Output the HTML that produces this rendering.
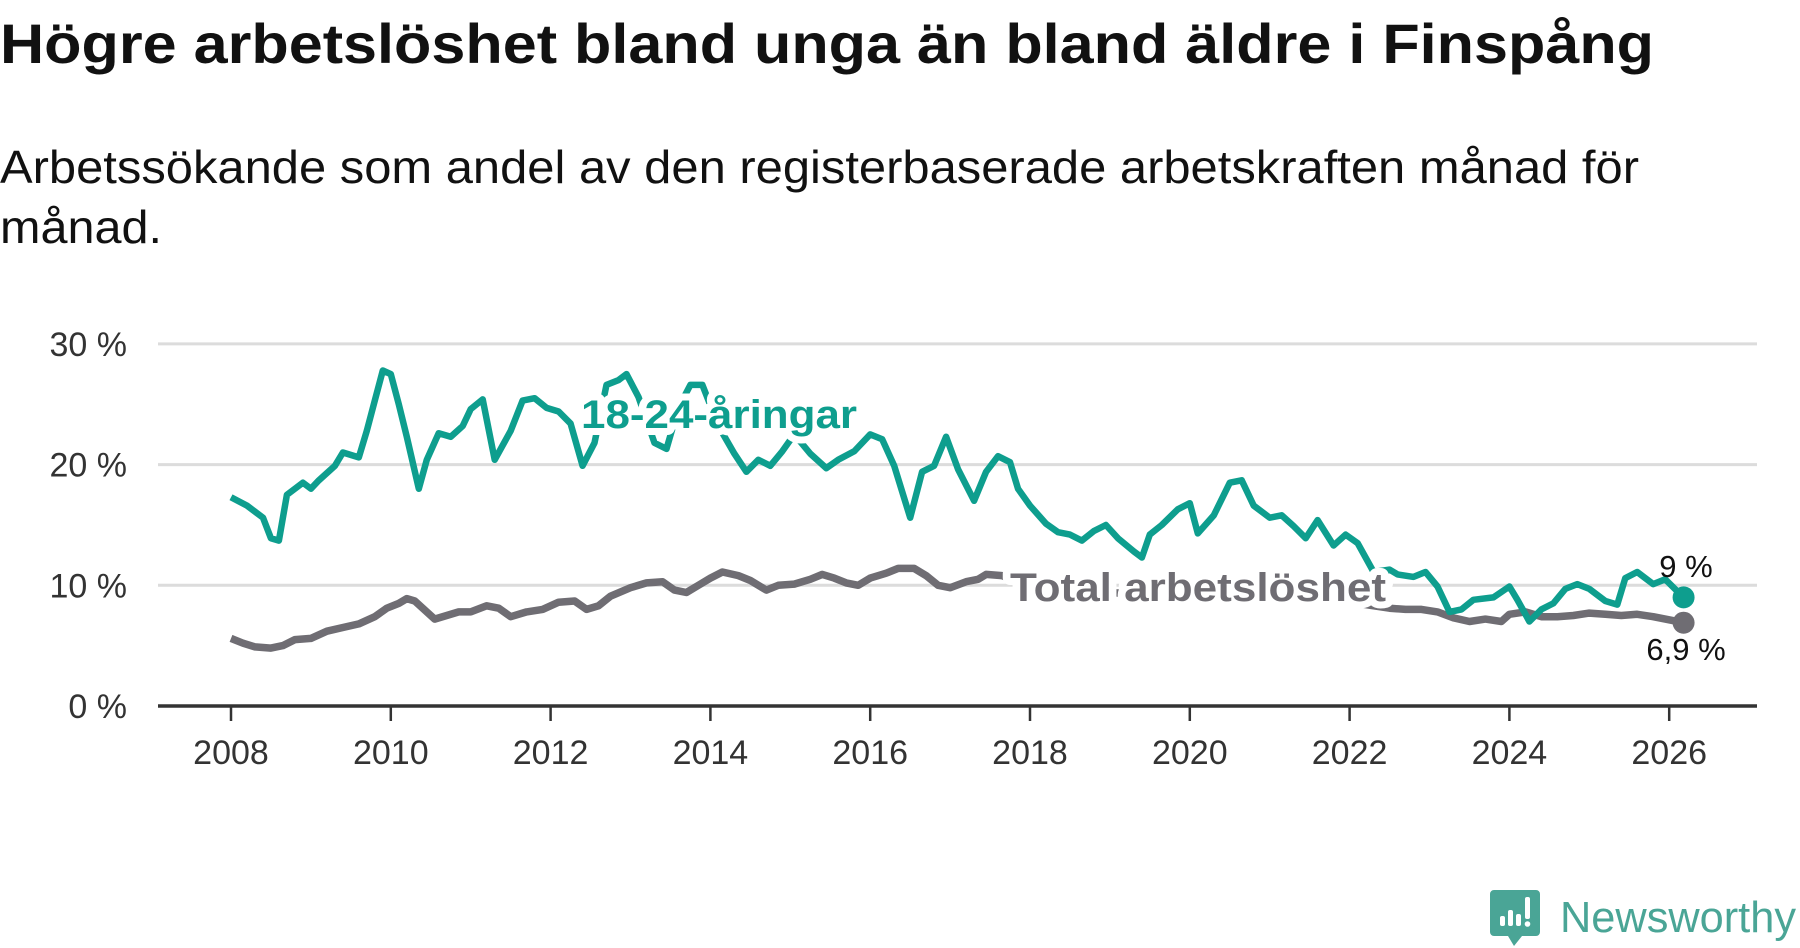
<!DOCTYPE html>
<html><head><meta charset="utf-8"><style>
html,body{margin:0;padding:0;background:#fff;}
svg{display:block;font-family:"Liberation Sans",sans-serif;}
</style></head><body>
<svg id="chart" width="1800" height="948" viewBox="0 0 1800 948">
<text x="0" y="63" font-size="56" font-weight="bold" fill="#111" textLength="1654" lengthAdjust="spacingAndGlyphs">Högre arbetslöshet bland unga än bland äldre i Finspång</text>
<text x="0" y="183" font-size="46" fill="#111" textLength="1639" lengthAdjust="spacingAndGlyphs">Arbetssökande som andel av den registerbaserade arbetskraften månad för</text>
<text x="0" y="243" font-size="46" fill="#111" textLength="162" lengthAdjust="spacingAndGlyphs">månad.</text>
<g id="grid"></g><g id="xaxis"></g><g id="lines"></g><g id="labels"></g>
<g>
<path d="M1494 890 h42 a4 4 0 0 1 4 4 v38 a4 4 0 0 1 -4 4 h-14 l-8 10 l-6 -10 h-14 a4 4 0 0 1 -4 -4 v-38 a4 4 0 0 1 4 -4z" fill="#4aa596"/>
<rect x="1500" y="916" width="5" height="10" rx="2" fill="#fff"/><rect x="1508" y="910" width="5" height="16" rx="2" fill="#fff"/><rect x="1516" y="914" width="5" height="12" rx="2" fill="#fff"/><rect x="1525" y="897" width="5" height="22" rx="2" fill="#fff"/><circle cx="1527.5" cy="924" r="2.8" fill="#fff"/>
<text x="1560" y="932" font-size="44" fill="#4aa596" textLength="236" lengthAdjust="spacingAndGlyphs">Newsworthy</text>
</g>
</svg>
<script>
const yTicks=[0,10,20,30];
const yTickLabels=["0 %","10 %","20 %","30 %"];
const xTicks=[2008,2010,2012,2014,2016,2018,2020,2022,2024,2026];
const youthT=[2008.0,2008.2,2008.4,2008.5,2008.6,2008.7,2008.9,2009.0,2009.1,2009.3,2009.4,2009.6,2009.7,2009.8,2009.9,2010.0,2010.1,2010.2,2010.35,2010.45,2010.6,2010.75,2010.9,2011.0,2011.15,2011.3,2011.5,2011.65,2011.8,2011.95,2012.1,2012.25,2012.4,2012.55,2012.7,2012.85,2012.95,2013.1,2013.3,2013.45,2013.6,2013.75,2013.9,2014.1,2014.3,2014.45,2014.6,2014.75,2014.9,2015.05,2015.25,2015.45,2015.6,2015.8,2016.0,2016.15,2016.3,2016.5,2016.65,2016.8,2016.95,2017.1,2017.3,2017.45,2017.6,2017.75,2017.85,2018.0,2018.2,2018.35,2018.5,2018.65,2018.8,2018.95,2019.1,2019.3,2019.4,2019.5,2019.65,2019.85,2020.0,2020.1,2020.3,2020.5,2020.65,2020.8,2021.0,2021.15,2021.3,2021.45,2021.6,2021.8,2021.95,2022.1,2022.3,2022.5,2022.6,2022.8,2022.95,2023.1,2023.25,2023.4,2023.55,2023.8,2024.0,2024.1,2024.25,2024.4,2024.55,2024.7,2024.85,2025.0,2025.2,2025.35,2025.45,2025.6,2025.8,2025.95,2026.18];
const youthV=[17.3,16.6,15.6,13.9,13.7,17.5,18.5,18.0,18.7,19.9,21.0,20.6,22.8,25.3,27.8,27.5,25.0,22.3,18.0,20.4,22.6,22.3,23.2,24.6,25.4,20.4,22.8,25.3,25.5,24.7,24.4,23.4,19.9,21.8,26.6,27.0,27.5,25.6,21.8,21.3,24.7,26.6,26.6,23.2,20.9,19.4,20.4,19.9,21.1,22.5,20.9,19.7,20.4,21.1,22.5,22.1,19.9,15.6,19.4,19.9,22.3,19.6,17.0,19.4,20.7,20.2,18.0,16.6,15.1,14.4,14.2,13.7,14.5,15.0,13.9,12.8,12.3,14.2,15.0,16.3,16.8,14.3,15.8,18.5,18.7,16.6,15.6,15.8,14.9,13.9,15.4,13.3,14.2,13.5,11.1,11.3,10.9,10.7,11.1,9.9,7.8,8.0,8.8,9.0,9.9,8.8,7.0,8.0,8.5,9.7,10.1,9.7,8.7,8.4,10.6,11.1,10.1,10.5,9.0];
const totalT=[2008.0,2008.15,2008.3,2008.5,2008.65,2008.8,2009.0,2009.2,2009.4,2009.6,2009.8,2009.95,2010.1,2010.2,2010.3,2010.55,2010.7,2010.85,2011.0,2011.2,2011.35,2011.5,2011.7,2011.9,2012.1,2012.3,2012.45,2012.6,2012.75,2013.0,2013.2,2013.4,2013.55,2013.7,2013.85,2014.0,2014.15,2014.35,2014.5,2014.7,2014.85,2015.05,2015.25,2015.4,2015.55,2015.7,2015.85,2016.0,2016.2,2016.35,2016.55,2016.7,2016.85,2017.0,2017.2,2017.35,2017.45,2017.65,2017.85,2018.0,2018.5,2019.0,2019.5,2020.0,2020.5,2021.0,2021.5,2022.0,2022.3,2022.5,2022.7,2022.9,2023.1,2023.3,2023.5,2023.7,2023.9,2024.0,2024.2,2024.4,2024.6,2024.8,2025.0,2025.2,2025.4,2025.6,2025.8,2026.18];
const totalV=[5.6,5.2,4.9,4.8,5.0,5.5,5.6,6.2,6.5,6.8,7.4,8.1,8.5,8.9,8.7,7.2,7.5,7.8,7.8,8.3,8.1,7.4,7.8,8.0,8.6,8.7,8.0,8.3,9.1,9.8,10.2,10.3,9.6,9.4,10.0,10.6,11.1,10.8,10.4,9.6,10.0,10.1,10.5,10.9,10.6,10.2,10.0,10.6,11.0,11.4,11.4,10.8,10.0,9.8,10.3,10.5,10.9,10.8,10.3,10.6,10.0,9.4,9.2,9.8,10.0,9.4,9.0,8.6,8.3,8.1,8.0,8.0,7.8,7.3,7.0,7.2,7.0,7.6,7.8,7.4,7.4,7.5,7.7,7.6,7.5,7.6,7.4,6.9];
const NS="http://www.w3.org/2000/svg";
const X=t=>231+(t-2008)*79.9;
const Y=v=>706-v*12.07;
function mk(tag,attrs,parent){const e=document.createElementNS(NS,tag);for(const k in attrs)e.setAttribute(k,attrs[k]);parent.appendChild(e);return e;}
const grid=document.getElementById('grid'),xa=document.getElementById('xaxis'),lines=document.getElementById('lines'),labels=document.getElementById('labels');
yTicks.forEach((v,i)=>{
 if(v>0){const g=mk('line',{x1:158,x2:1757,y1:Y(v),y2:Y(v),stroke:'#dcdcdc','stroke-width':3},grid);
 
 }
 const t=mk('text',{x:127,y:Y(v)+12,'text-anchor':'end','font-size':34,fill:'#333'},grid);t.textContent=yTickLabels[i];
 
 
});
const ax=mk('line',{x1:158,x2:1757,y1:706,y2:706,stroke:'#333','stroke-width':3.5},xa);


xTicks.forEach(yr=>{
 const l=mk('line',{x1:X(yr),x2:X(yr),y1:706,y2:721,stroke:'#333','stroke-width':2.5},xa);
 
 
 const t=mk('text',{x:X(yr),y:764,'text-anchor':'middle','font-size':34,fill:'#333'},xa);t.textContent=yr;
 
 
});
function path(T,V){return T.map((t,i)=>(i?'L':'M')+X(t).toFixed(1)+' '+Y(V[i]).toFixed(1)).join(' ');}
const tl=mk('path',{d:path(totalT,totalV),fill:'none',stroke:'#6f6d73','stroke-width':7.5,'stroke-linejoin':'round'},lines);


const yl=mk('path',{d:path(youthT,youthV),fill:'none',stroke:'#0e9e8e','stroke-width':6.5,'stroke-linejoin':'round'},lines);


const tN=totalT.length-1,yN=youthT.length-1;
const d1=mk('circle',{cx:X(totalT[tN]),cy:Y(totalV[tN]),r:11,fill:'#6f6d73'},lines);


const d2=mk('circle',{cx:X(youthT[yN]),cy:Y(youthV[yN]),r:11,fill:'#0e9e8e'},lines);


const la=mk('text',{x:581,y:428,'font-size':40,'font-weight':'bold',fill:'#0e9e8e',stroke:'#fff','stroke-width':14,'paint-order':'stroke','stroke-linejoin':'round',textLength:276,lengthAdjust:'spacingAndGlyphs'},labels);la.textContent='18-24-åringar';


const lb=mk('text',{x:1010,y:601,'font-size':40,'font-weight':'bold',fill:'#6f6d73',stroke:'#fff','stroke-width':14,'paint-order':'stroke','stroke-linejoin':'round',textLength:376,lengthAdjust:'spacingAndGlyphs'},labels);lb.textContent='Total arbetslöshet';


const v1=mk('text',{x:1686,y:577,'text-anchor':'middle','font-size':31,fill:'#111'},labels);v1.textContent='9 %';


const v2=mk('text',{x:1686,y:660,'text-anchor':'middle','font-size':31,fill:'#111'},labels);v2.textContent='6,9 %';


</script>
</body></html>
